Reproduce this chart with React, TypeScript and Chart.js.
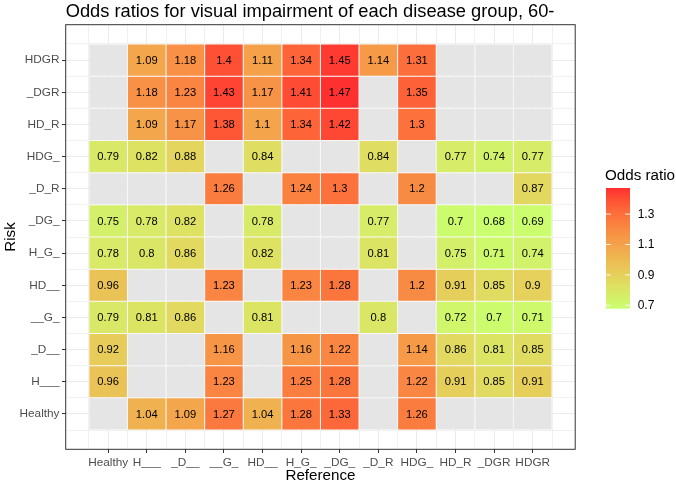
import React, { useEffect, useRef } from "react";
import { Chart, registerables } from "chart.js";

Chart.register(...registerables);

// Group codes: H = hypertension, D = diabetes, G = glaucoma, R = retinopathy
const referenceGroups = ["Healthy", "H___", "_D__", "__G_", "HD__", "H_G_", "_DG_", "_D_R", "HDG_", "HD_R", "_DGR", "HDGR"];
// Risk groups, listed from the bottom row to the top row
const riskGroups = ["Healthy", "H___", "_D__", "__G_", "HD__", "H_G_", "_DG_", "_D_R", "HDG_", "HD_R", "_DGR", "HDGR"];

// Odds ratios of each risk group against every reference group (null = not estimated)
const orHealthy = [null, 1.04, 1.09, 1.27, 1.04, 1.28, 1.33, null, 1.26, null, null, null];
const orH = [0.96, null, null, 1.23, null, 1.25, 1.28, null, 1.22, 0.91, 0.85, 0.91];
const orD = [0.92, null, null, 1.16, null, 1.16, 1.22, null, 1.14, 0.86, 0.81, 0.85];
const orG = [0.79, 0.81, 0.86, null, 0.81, null, null, 0.8, null, 0.72, 0.7, 0.71];
const orHD = [0.96, null, null, 1.23, null, 1.23, 1.28, null, 1.2, 0.91, 0.85, 0.9];
const orHG = [0.78, 0.8, 0.86, null, 0.82, null, null, 0.81, null, 0.75, 0.71, 0.74];
const orDG = [0.75, 0.78, 0.82, null, 0.78, null, null, 0.77, null, 0.7, 0.68, 0.69];
const orDR = [null, null, null, 1.26, null, 1.24, 1.3, null, 1.2, null, null, 0.87];
const orHDG = [0.79, 0.82, 0.88, null, 0.84, null, null, 0.84, null, 0.77, 0.74, 0.77];
const orHDR = [null, 1.09, 1.17, 1.38, 1.1, 1.34, 1.42, null, 1.3, null, null, null];
const orDGR = [null, 1.18, 1.23, 1.43, 1.17, 1.41, 1.47, null, 1.35, null, null, null];
const orHDGR = [null, 1.09, 1.18, 1.4, 1.11, 1.34, 1.45, 1.14, 1.31, null, null, null];

const oddsRows: (number | null)[][] = [orHealthy, orH, orD, orG, orHD, orHG, orDG, orDR, orHDG, orHDR, orDGR, orHDGR];

const legendBreaks = [0.7, 0.9, 1.1, 1.3];

const TITLE = "Odds ratios for visual impairment of each disease group, 60-";
const FONT = '"Liberation Sans", Arial, Helvetica, sans-serif';

// ---- colour scale: linear gradient in CIELAB between two end colours ----
const LOW_RGB = [202, 255, 112];
const HIGH_RGB = [255, 48, 48];
const NA_FILL = "#E5E5E5";

const toLin = (c: number) => {
  const v = c / 255;
  return v <= 0.04045 ? v / 12.92 : Math.pow((v + 0.055) / 1.055, 2.4);
};
const fromLin = (c: number) => {
  const v = c <= 0.0031308 ? 12.92 * c : 1.055 * Math.pow(c, 1 / 2.4) - 0.055;
  return Math.round(Math.max(0, Math.min(1, v)) * 255);
};
const XN = 0.95047, ZN = 1.08883;
function rgbToLab(rgb: number[]) {
  const r = toLin(rgb[0]), g = toLin(rgb[1]), b = toLin(rgb[2]);
  const X = (0.4124 * r + 0.3576 * g + 0.1805 * b) / XN;
  const Y = 0.2126 * r + 0.7152 * g + 0.0722 * b;
  const Z = (0.0193 * r + 0.1192 * g + 0.9505 * b) / ZN;
  const f = (t: number) => (t > 0.008856 ? Math.cbrt(t) : 7.787 * t + 16 / 116);
  const fx = f(X), fy = f(Y), fz = f(Z);
  return [116 * fy - 16, 500 * (fx - fy), 200 * (fy - fz)];
}
function labToRgb(lab: number[]) {
  const fy = (lab[0] + 16) / 116;
  const fx = fy + lab[1] / 500;
  const fz = fy - lab[2] / 200;
  const inv = (t: number) => (t * t * t > 0.008856 ? t * t * t : (t - 16 / 116) / 7.787);
  const X = inv(fx) * XN, Y = inv(fy), Z = inv(fz) * ZN;
  const r = 3.2406 * X - 1.5372 * Y - 0.4986 * Z;
  const g = -0.9689 * X + 1.8758 * Y + 0.0415 * Z;
  const b = 0.0557 * X - 0.204 * Y + 1.057 * Z;
  return `rgb(${fromLin(r)},${fromLin(g)},${fromLin(b)})`;
}
const LOW_LAB = rgbToLab(LOW_RGB);
const HIGH_LAB = rgbToLab(HIGH_RGB);

const allValues = oddsRows.flat().filter((v): v is number => v != null);
const V_MIN = Math.min(...allValues);
const V_MAX = Math.max(...allValues);

function fillFor(v: number) {
  const t = Math.max(0, Math.min(1, (v - V_MIN) / (V_MAX - V_MIN)));
  return labToRgb(LOW_LAB.map((l, i) => l + (HIGH_LAB[i] - l) * t));
}

// grid positions: tile centres (major) and tile edges (minor)
const gridTicks = (n: number) => Array.from({ length: 2 * n + 1 }, (_, k) => ({ value: -0.5 + k * 0.5 }));
const isMajor = (v: number) => Math.abs(v - Math.round(v)) < 1e-6;

// ---- plugins ----
const panelPlugin = {
  id: "panelDecor",
  afterDatasetsDraw(chart: any) {
    const { ctx, chartArea, scales } = chart;
    const xs = scales.x, ys = scales.y;
    ctx.save();
    ctx.font = `11.2px ${FONT}`;
    ctx.fillStyle = "#000";
    ctx.textAlign = "center";
    ctx.textBaseline = "middle";
    oddsRows.forEach((row, r) => {
      row.forEach((v, c) => {
        if (v == null) return;
        ctx.fillText(String(v), xs.getPixelForValue(c), ys.getPixelForValue(r) + 0.5);
      });
    });
    ctx.strokeStyle = "#333333";
    ctx.lineWidth = 1;
    ctx.strokeRect(chartArea.left, chartArea.top, chartArea.right - chartArea.left, chartArea.bottom - chartArea.top);
    ctx.restore();
  },
  afterDraw(chart: any) {
    const { ctx, chartArea } = chart;
    ctx.save();
    // plot title
    ctx.font = `18.3px ${FONT}`;
    ctx.fillStyle = "#000";
    ctx.textAlign = "left";
    ctx.textBaseline = "alphabetic";
    ctx.fillText(TITLE, chartArea.left, 16.5);

    // colour bar legend
    const barL = 606, barW = 24, barTop = 188.3, barBot = 308.3;
    const yFor = (v: number) => barBot - ((v - V_MIN) / (V_MAX - V_MIN)) * (barBot - barTop);
    ctx.font = `15.2px ${FONT}`;
    ctx.fillText("Odds ratio", 605, 180);
    const steps = 240;
    const h = (barBot - barTop) / steps;
    for (let i = 0; i < steps; i++) {
      const v = V_MIN + ((i + 0.5) / steps) * (V_MAX - V_MIN);
      ctx.fillStyle = fillFor(v);
      ctx.fillRect(barL, barBot - (i + 1) * h - 0.3, barW, h + 0.6);
    }
    ctx.strokeStyle = "rgba(255,255,255,0.9)";
    ctx.lineWidth = 1;
    ctx.font = `12px ${FONT}`;
    ctx.fillStyle = "#000";
    ctx.textBaseline = "middle";
    legendBreaks.forEach((b) => {
      const y = yFor(b);
      ctx.beginPath();
      ctx.moveTo(barL, y);
      ctx.lineTo(barL + barW / 5, y);
      ctx.moveTo(barL + barW - barW / 5, y);
      ctx.lineTo(barL + barW, y);
      ctx.stroke();
      ctx.fillText(String(b), 637.7, y + 0.5);
    });
    ctx.restore();
  },
};

const axisCommon = (labels: string[], title: string, fit: (s: any) => void, titlePad: any) => ({
  type: "linear" as const,
  min: -1.1,
  max: 12.1,
  offset: false,
  afterBuildTicks: (s: any) => {
    s.ticks = gridTicks(labels.length);
  },
  afterFit: fit,
  border: { display: false },
  grid: {
    offset: false,
    color: "#EBEBEB",
    lineWidth: (c: any) => (c.tick && isMajor(c.tick.value) ? 1 : 0.7),
    drawTicks: true,
    tickLength: 3.7,
    tickWidth: 1,
    tickColor: (c: any) => (c.tick && isMajor(c.tick.value) ? "#333333" : "rgba(0,0,0,0)"),
  },
  ticks: {
    autoSkip: false,
    maxRotation: 0,
    minRotation: 0,
    padding: 2.5,
    color: "#4D4D4D",
    font: { size: 11.8, family: FONT },
    callback: (v: any) => (isMajor(v) ? labels[Math.round(v)] ?? "" : ""),
  },
  title: {
    display: true,
    text: title,
    color: "#000",
    font: { size: 15.2, family: FONT },
    padding: titlePad,
  },
});

export default function App() {
  const canvasRef = useRef<HTMLCanvasElement | null>(null);

  useEffect(() => {
    if (!canvasRef.current) return;
    Chart.defaults.font.family = FONT;

    // The bar ruler measures the spacing of the half-step grid ticks,
    // so a bar percentage of 2 makes each tile one full category wide.
    const datasets = riskGroups.map((name, r) => ({
      label: name,
      data: referenceGroups.map((_, c) => ({ x: c, y: [r - 0.5, r + 0.5] })),
      backgroundColor: oddsRows[r].map((v) => (v == null ? NA_FILL : fillFor(v))),
      borderColor: "#ffffff",
      borderWidth: 0.5,
      borderSkipped: false,
      inflateAmount: 0,
      grouped: false,
      barPercentage: 2,
      categoryPercentage: 1,
    }));

    const chart = new Chart(canvasRef.current, {
      type: "bar",
      data: { datasets: datasets as any },
      options: {
        animation: false,
        responsive: false,
        devicePixelRatio: 1,
        events: [],
        layout: { padding: { top: 24.7, right: 100.8, bottom: 0, left: 0 } },
        plugins: { legend: { display: false }, tooltip: { enabled: false }, title: { display: false } },
        scales: {
          x: axisCommon(
            referenceGroups,
            "Reference",
            (s: any) => {
              s.height = 32.7;
            },
            { top: 0, bottom: -3 }
          ),
          y: axisCommon(
            riskGroups,
            "Risk",
            (s: any) => {
              s.width = 65.7;
            },
            { top: 2, bottom: 0 }
          ),
        } as any,
      },
      plugins: [panelPlugin],
    });

    return () => chart.destroy();
  }, []);

  return (
    <div style={{ position: "fixed", left: 0, top: 0, width: 676, height: 482, background: "#fff" }}>
      <canvas ref={canvasRef} width={676} height={482} style={{ display: "block" }} />
    </div>
  );
}
